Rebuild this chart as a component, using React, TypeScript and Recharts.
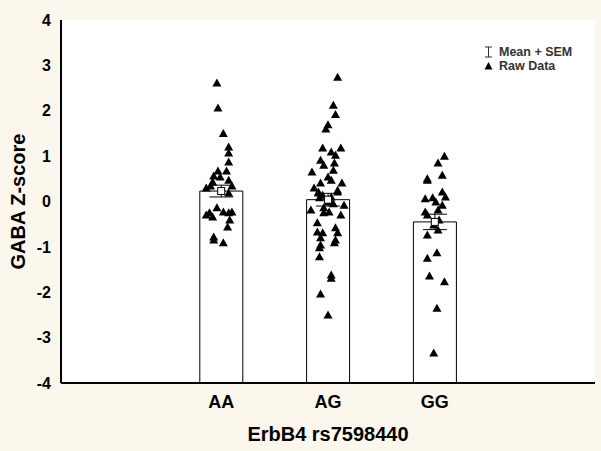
import React from 'react';
import {
  ComposedChart, Bar, Scatter, ErrorBar, XAxis, YAxis, CartesianGrid, Label
} from 'recharts';

// x axis slots: blank, the three genotypes, blank
const categories = ['', 'AA', 'AG', 'GG', ''];
const groupSlots = [1, 2, 3];
const groupMeans = [0.23, 0.04, -0.45];
const groupSems = [0.13, 0.14, 0.17];
const yTicks = [-4, -3, -2, -1, 0, 1, 2, 3, 4];
const yFloor = -4;

// raw z-scores per genotype, with horizontal jitter (in slot units)
const aaValues = [2.61, 2.06, 1.5, 1.2, 1.07, 0.87, 0.67, 0.67, 0.54, 0.56, 0.43, 0.47, 0.34, 0.3, 0.19, 0.34,
  -0.25, -0.14, -0.23, -0.25, -0.34, -0.41, -0.56, -0.85, -0.91, -0.3, -0.23, -0.78];
const aaJitter = [-0.04, -0.03, 0.02, 0.07, 0.07, 0.07, -0.03, 0.05, -0.01, -0.07, -0.08, 0.07, -0.1, -0.14, 0.07, 0.1,
  -0.11, -0.04, 0.02, 0.07, -0.08, 0.08, 0.06, -0.07, 0.02, -0.14, 0.1, -0.07];

const agValues = [2.74, 2.12, 1.92, 1.69, 1.6, 1.18, 1.09, 1.02, 0.91, 0.8, 0.69, 0.54, 0.41, 0.47, 0.25, 0.21,
  0.14, 0.1, 0.08, -0.01, -0.05, -0.14, -0.23, -0.25, -0.47, -0.58, -0.69, -0.69, -0.85, -0.8, -0.91, -0.96,
  -1.02, -1.22, -1.62, -1.69, -2.04, -2.5, 0.3, 0.41, 0.65, 1.18, -0.08, -0.19, -0.3, -0.67, 0.85, 0.19, 0.21];
const agJitter = [0.09, 0.05, 0.07, 0, -0.02, -0.05, 0.03, 0.07, -0.07, -0.04, 0.05, 0, -0.07, 0.03, 0.09, -0.09,
  -0.05, 0.03, -0.08, 0, 0.05, -0.04, 0.01, -0.04, -0.1, 0.07, -0.05, 0.09, 0.07, -0.07, 0.06, -0.07,
  -0.08, -0.08, 0.03, 0.03, -0.07, 0, -0.13, 0.13, -0.15, 0.12, 0.15, -0.16, 0.12, -0.1, 0.06, -0.09, 0.09];

const ggValues = [1.0, 0.85, 0.58, 0.47, 0.21, 0.06, 0.08, -0.01, -0.08, -0.19, -0.3, -0.41, -0.52, -0.63, -0.74,
  -1.13, -1.25, -1.64, -1.77, -2.35, -3.34, -0.23, 0.1, 0.5];
const ggJitter = [0.09, 0.03, 0.07, -0.07, 0.07, -0.09, -0.02, 0.01, 0.07, 0.03, -0.07, 0.04, -0.01, 0.03, -0.07,
  0.02, -0.07, -0.05, 0.09, 0.02, -0.01, -0.09, 0.1, -0.07];

// bars rise from the bottom of the axis up to the mean
const barData = groupSlots.map((x, i) => ({ x, range: [yFloor, groupMeans[i]], sem: groupSems[i] }));
const rawData = [
  ...aaValues.map((y, i) => ({ x: 1 + aaJitter[i], y })),
  ...agValues.map((y, i) => ({ x: 2 + agJitter[i], y })),
  ...ggValues.map((y, i) => ({ x: 3 + ggJitter[i], y })),
];
const meanData = groupSlots.map((x, i) => ({ x, y: groupMeans[i] }));

const font = 'Arial, "Liberation Sans", sans-serif';

const Triangle = (props: any) => {
  const { cx, cy } = props;
  return <polygon points={`${cx},${cy - 4.5} ${cx - 4.5},${cy + 3.5} ${cx + 4.5},${cy + 3.5}`} fill="#000" />;
};

const MeanSquare = (props: any) => {
  const { cx, cy } = props;
  return <rect x={cx - 3.5} y={cy - 3.5} width={7} height={7} fill="#fff" stroke="#000" strokeWidth={1} />;
};

export default function App() {
  return (
    <div style={{ position: 'absolute', left: 0, top: 0, width: 601, height: 451, background: '#fcf7ed' }}>
      <ComposedChart width={601} height={451} data={barData} margin={{ top: 20, right: 6, bottom: 0, left: 0 }}>
        <CartesianGrid fill="#ffffff" horizontal={false} vertical={false} />
        <XAxis xAxisId="bars" type="number" dataKey="x" domain={[-0.5, 4.5]} height={0} hide />
        <XAxis
          xAxisId="main"
          type="number"
          dataKey="x"
          domain={[-0.5, 4.5]}
          ticks={[0, 1, 2, 3, 4]}
          tickFormatter={(v: number) => categories[v]}
          height={68}
          axisLine={{ stroke: '#000', strokeWidth: 2 }}
          tickLine={false}
          tick={{ fill: '#000', fontSize: 18, fontWeight: 'bold', fontFamily: font }}
          tickMargin={6}
        >
          <Label value="ErbB4 rs7598440" position="insideBottom" offset={10}
            style={{ fill: '#000', fontSize: 20, fontWeight: 'bold', fontFamily: font }} />
        </XAxis>
        <YAxis
          type="number"
          domain={[-4, 4]}
          ticks={yTicks}
          width={61}
          axisLine={{ stroke: '#000', strokeWidth: 2 }}
          tickLine={false}
          tick={{ fill: '#000', fontSize: 16, fontWeight: 'bold', fontFamily: font }}
          tickMargin={4}
        >
          <Label value="GABA Z-score" angle={-90} position="insideLeft" offset={18}
            style={{ textAnchor: 'middle', fill: '#000', fontSize: 20, fontWeight: 'bold', fontFamily: font }} />
        </YAxis>
        <Bar xAxisId="bars" dataKey="range" barSize={43} fill="#fff" stroke="#000" strokeWidth={1}
          isAnimationActive={false}>
          <ErrorBar dataKey="sem" width={12} stroke="#000" strokeWidth={1} direction="y" />
        </Bar>
        <Scatter xAxisId="main" data={rawData} dataKey="y" shape={Triangle} isAnimationActive={false} />
        <Scatter xAxisId="main" data={meanData} dataKey="y" shape={MeanSquare} isAnimationActive={false} />
      </ComposedChart>
      <div style={{
        position: 'absolute', left: 484, top: 45, fontFamily: font, fontWeight: 'bold',
        fontSize: 12.5, color: '#333', lineHeight: '14px'
      }}>
        <div style={{ display: 'flex', alignItems: 'center' }}>
          <svg width={10} height={12} style={{ marginRight: 5 }}>
            <line x1={1} y1={1} x2={8} y2={1} stroke="#333" />
            <line x1={4.5} y1={1} x2={4.5} y2={11} stroke="#333" />
            <line x1={1} y1={11} x2={8} y2={11} stroke="#333" />
          </svg>
          Mean + SEM
        </div>
        <div style={{ display: 'flex', alignItems: 'center' }}>
          <svg width={10} height={10} style={{ marginRight: 5 }}>
            <polygon points="4.5,1 0.5,8.5 8.5,8.5" fill="#000" />
          </svg>
          Raw Data
        </div>
      </div>
    </div>
  );
}
